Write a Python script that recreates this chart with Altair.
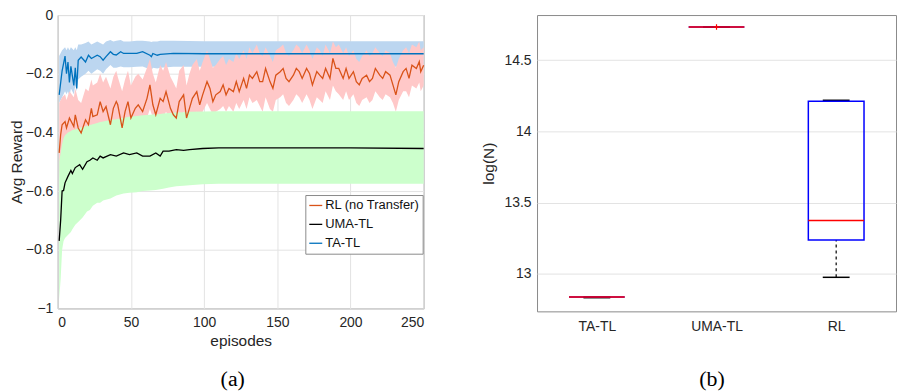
import altair as alt
import pandas as pd

# ---------------- Panel (a) data ----------------
rl_ep = [1, 2, 3, 5, 6, 8, 11, 12, 14, 16, 19, 21, 23, 24, 27, 29, 31, 33, 36, 38,
         40, 41, 44, 46, 48, 50, 53, 55, 58, 61, 63, 65, 67, 70, 72, 74, 77, 79, 81, 83,
         86, 88, 90, 92, 95, 97, 99, 102, 104, 106, 108, 111, 113, 115, 117, 120, 122, 124, 127, 129,
         131, 133, 136, 138, 140, 142, 145, 147, 149, 152, 154, 156, 158, 161, 163, 165, 167, 170, 172, 174,
         177, 179, 181, 183, 186, 188, 190, 192, 195, 197, 199, 202, 204, 206, 208, 211, 213, 215, 217, 220,
         222, 224, 227, 229, 231, 233, 236, 238, 240, 242, 245, 247, 248, 250]
rl_mean = [-0.470, -0.408, -0.374, -0.363, -0.385, -0.351, -0.380, -0.340, -0.385, -0.402,
           -0.357, -0.374, -0.318, -0.346, -0.340, -0.295, -0.329, -0.312, -0.374, -0.318,
           -0.295, -0.306, -0.385, -0.329, -0.295, -0.351, -0.318, -0.306, -0.329, -0.284,
           -0.238, -0.306, -0.340, -0.284, -0.295, -0.261, -0.318, -0.340, -0.351, -0.295,
           -0.272, -0.351, -0.318, -0.284, -0.261, -0.306, -0.272, -0.227, -0.250, -0.295,
           -0.272, -0.261, -0.238, -0.272, -0.250, -0.261, -0.227, -0.261, -0.216, -0.250,
           -0.205, -0.216, -0.193, -0.227, -0.227, -0.182, -0.227, -0.250, -0.205, -0.193,
           -0.182, -0.216, -0.227, -0.205, -0.182, -0.193, -0.216, -0.182, -0.199, -0.238,
           -0.193, -0.205, -0.216, -0.182, -0.216, -0.148, -0.182, -0.182, -0.216, -0.182,
           -0.216, -0.193, -0.227, -0.238, -0.216, -0.205, -0.227, -0.216, -0.182, -0.205,
           -0.216, -0.193, -0.205, -0.238, -0.272, -0.227, -0.193, -0.182, -0.216, -0.171,
           -0.182, -0.159, -0.193, -0.171]
rl_upper = [-0.300, -0.290, -0.280, -0.270, -0.290, -0.260, -0.280, -0.250, -0.290, -0.300,
            -0.250, -0.260, -0.220, -0.240, -0.230, -0.200, -0.230, -0.210, -0.250, -0.210,
            -0.190, -0.210, -0.260, -0.220, -0.190, -0.240, -0.210, -0.200, -0.220, -0.180,
            -0.150, -0.200, -0.230, -0.170, -0.190, -0.160, -0.210, -0.230, -0.250, -0.190,
            -0.170, -0.240, -0.200, -0.170, -0.150, -0.190, -0.160, -0.120, -0.150, -0.180,
            -0.170, -0.150, -0.140, -0.170, -0.150, -0.160, -0.130, -0.150, -0.120, -0.150,
            -0.110, -0.130, -0.100, -0.130, -0.140, -0.110, -0.140, -0.160, -0.120, -0.110,
            -0.100, -0.130, -0.140, -0.120, -0.100, -0.110, -0.130, -0.100, -0.120, -0.150,
            -0.110, -0.120, -0.140, -0.100, -0.130, -0.090, -0.110, -0.100, -0.130, -0.110,
            -0.140, -0.120, -0.150, -0.160, -0.140, -0.120, -0.140, -0.130, -0.110, -0.130,
            -0.140, -0.120, -0.130, -0.160, -0.180, -0.150, -0.120, -0.110, -0.130, -0.100,
            -0.110, -0.090, -0.120, -0.110]
rl_lower = [-0.560, -0.500, -0.450, -0.430, -0.440, -0.420, -0.430, -0.410, -0.440, -0.440,
            -0.420, -0.420, -0.390, -0.400, -0.400, -0.370, -0.390, -0.380, -0.410, -0.380,
            -0.360, -0.370, -0.400, -0.380, -0.360, -0.390, -0.370, -0.360, -0.370, -0.350,
            -0.320, -0.350, -0.370, -0.340, -0.350, -0.330, -0.360, -0.370, -0.380, -0.350,
            -0.330, -0.380, -0.360, -0.340, -0.330, -0.350, -0.330, -0.300, -0.320, -0.340,
            -0.330, -0.320, -0.310, -0.330, -0.310, -0.330, -0.300, -0.320, -0.290, -0.320,
            -0.280, -0.300, -0.290, -0.310, -0.330, -0.280, -0.320, -0.330, -0.290, -0.280,
            -0.270, -0.300, -0.310, -0.290, -0.270, -0.280, -0.300, -0.270, -0.290, -0.320,
            -0.280, -0.290, -0.300, -0.260, -0.290, -0.240, -0.260, -0.270, -0.290, -0.260,
            -0.290, -0.270, -0.300, -0.310, -0.290, -0.280, -0.300, -0.290, -0.260, -0.280,
            -0.290, -0.270, -0.280, -0.300, -0.330, -0.290, -0.260, -0.260, -0.280, -0.240,
            -0.250, -0.230, -0.260, -0.240]

ta_ep = [1, 3, 5, 6, 7, 8, 9, 11, 12, 13, 14, 16, 19, 21, 23, 27, 29, 31, 33, 36,
         38, 40, 43, 45, 49, 54, 58, 63, 64, 65, 68, 70, 79, 100, 150, 200, 250]
ta_mean = [-0.272, -0.190, -0.140, -0.200, -0.160, -0.230, -0.175, -0.240, -0.180, -0.250,
           -0.154, -0.143, -0.160, -0.137, -0.148, -0.137, -0.142, -0.154, -0.142, -0.125,
           -0.134, -0.136, -0.125, -0.131, -0.131, -0.131, -0.125, -0.137, -0.142, -0.131,
           -0.137, -0.134, -0.131, -0.132, -0.132, -0.132, -0.132]
ta_upper = [-0.140, -0.120, -0.110, -0.120, -0.110, -0.120, -0.110, -0.120, -0.110, -0.120,
            -0.100, -0.100, -0.095, -0.090, -0.100, -0.090, -0.095, -0.100, -0.090, -0.085,
            -0.090, -0.088, -0.085, -0.090, -0.090, -0.088, -0.088, -0.090, -0.092, -0.090,
            -0.090, -0.088, -0.088, -0.089, -0.089, -0.089, -0.089]
ta_lower = [-0.300, -0.280, -0.260, -0.270, -0.260, -0.280, -0.250, -0.270, -0.240, -0.260,
            -0.220, -0.210, -0.200, -0.190, -0.200, -0.185, -0.190, -0.200, -0.185, -0.170,
            -0.180, -0.180, -0.175, -0.178, -0.178, -0.176, -0.175, -0.185, -0.190, -0.180,
            -0.182, -0.180, -0.176, -0.176, -0.176, -0.176, -0.176]

uma_ep = [1, 2, 3, 4, 5, 7, 9, 10, 12, 15, 17, 20, 22, 24, 27, 29, 31, 36, 40, 45,
          49, 54, 58, 63, 67, 70, 72, 76, 81, 86, 90, 99, 110, 125, 150, 200, 250]
uma_mean = [-0.770, -0.700, -0.600, -0.598, -0.572, -0.550, -0.530, -0.540, -0.520, -0.510,
            -0.526, -0.500, -0.495, -0.487, -0.495, -0.481, -0.487, -0.476, -0.481, -0.470,
            -0.476, -0.470, -0.481, -0.481, -0.470, -0.481, -0.464, -0.464, -0.459, -0.461,
            -0.459, -0.455, -0.453, -0.453, -0.453, -0.453, -0.455]
uma_upper = [-0.500, -0.470, -0.440, -0.420, -0.410, -0.400, -0.395, -0.392, -0.390, -0.385,
             -0.382, -0.378, -0.375, -0.372, -0.368, -0.365, -0.363, -0.358, -0.355, -0.350,
             -0.347, -0.344, -0.342, -0.340, -0.338, -0.337, -0.336, -0.334, -0.332, -0.331,
             -0.330, -0.329, -0.328, -0.328, -0.328, -0.328, -0.328]
uma_lower = [-0.970, -0.900, -0.800, -0.770, -0.760, -0.750, -0.740, -0.730, -0.715, -0.700,
             -0.690, -0.670, -0.665, -0.650, -0.640, -0.640, -0.632, -0.625, -0.615, -0.608,
             -0.606, -0.604, -0.600, -0.598, -0.596, -0.594, -0.592, -0.588, -0.584, -0.582,
             -0.580, -0.577, -0.575, -0.575, -0.575, -0.575, -0.575]

series_names = ["RL (no Transfer)", "UMA-TL", "TA-TL"]
series_colors = ["#D95319", "#000000", "#0072BD"]
band_colors = ["#FFC8C8", "#CCFFCC", "#BCD6F0"]

# ---------------- Panel (b) data ----------------
box_cat = ["TA-TL", "UMA-TL", "RL"]
box_q1 = [12.837, 14.732, 13.237]
box_med = [12.837, 14.732, 13.375]
box_q3 = [12.837, 14.732, 14.211]
box_lo = [12.833, 14.732, 12.976]
box_hi = [12.837, 14.732, 14.218]
out_cat = ["UMA-TL"]
out_val = [14.732]

FONT = "Liberation Sans"
SERIF = "Liberation Serif"

# ---------------- Panel (a) ----------------
xsc = alt.Scale(domain=[0, 250], nice=False)
ysc = alt.Scale(domain=[-1, 0], nice=False)
xax = alt.Axis(values=[0, 50, 100, 150, 200, 250], title="episodes", labelPadding=7,
               titlePadding=4, format="d")
yax = alt.Axis(values=[0, -0.2, -0.4, -0.6, -0.8, -1], title="Avg Reward", format="~g",
               labelPadding=5, titlePadding=1)


def band(ep, lo, hi, color):
    df = pd.DataFrame({"ep": ep, "lo": lo, "hi": hi})
    return alt.Chart(df).mark_area(color=color, opacity=1).encode(
        x=alt.X("ep:Q", scale=xsc, axis=xax),
        y=alt.Y("hi:Q", scale=ysc, axis=yax),
        y2="lo:Q",
    )


lines_df = pd.concat([
    pd.DataFrame({"ep": rl_ep, "hi": rl_mean, "series": series_names[0]}),
    pd.DataFrame({"ep": uma_ep, "hi": uma_mean, "series": series_names[1]}),
    pd.DataFrame({"ep": ta_ep, "hi": ta_mean, "series": series_names[2]}),
])

lines = alt.Chart(lines_df).mark_line(strokeWidth=1.3).encode(
    x=alt.X("ep:Q", scale=xsc, axis=xax),
    y=alt.Y("hi:Q", scale=ysc, axis=yax),
    color=alt.Color("series:N", scale=alt.Scale(domain=series_names, range=series_colors),
                    legend=alt.Legend(title=None, orient="none", legendX=249, legendY=181,
                                      fillColor="white", strokeColor="#8a8a8a", padding=3,
                                      symbolType="stroke", symbolStrokeWidth=1.3, symbolSize=170,
                                      labelFont=FONT, labelFontSize=13, labelColor="#111111",
                                      labelOffset=2, rowPadding=4)),
)

cap_a = alt.Chart(pd.DataFrame({"t": ["(a)"]})).mark_text(
    font=SERIF, fontSize=22, baseline="middle", align="center", color="black"
).encode(text="t:N", x=alt.value(176), y=alt.value(366))

left = alt.layer(
    band(ta_ep, ta_lower, ta_upper, band_colors[2]),
    band(rl_ep, rl_lower, rl_upper, band_colors[0]),
    band(uma_ep, uma_lower, uma_upper, band_colors[1]),
    lines,
    cap_a,
).properties(width=368, height=295)

# ---------------- Panel (b) ----------------
bdf = pd.DataFrame({"cat": box_cat, "q1": box_q1, "med": box_med, "q3": box_q3,
                    "lo": box_lo, "hi": box_hi})
odf = pd.DataFrame({"cat": out_cat, "v": out_val})

xsc2 = alt.Scale(type="point", domain=box_cat, padding=0.5)
ysc2 = alt.Scale(domain=[12.737, 14.816], nice=False, zero=False)
xax2 = alt.Axis(title=None, labelPadding=8, labelAngle=0)
yax2 = alt.Axis(values=[13, 13.5, 14, 14.5], title="log(N)", format="~g",
                labelPadding=6, titlePadding=8)

bx = alt.X("cat:N", scale=xsc2, axis=xax2)

whisk_hi = alt.Chart(bdf).mark_rule(color="black", strokeDash=[3, 3], strokeWidth=1.2).encode(
    x=bx, y=alt.Y("q3:Q", scale=ysc2, axis=yax2), y2="hi:Q")
whisk_lo = alt.Chart(bdf).mark_rule(color="black", strokeDash=[3, 3], strokeWidth=1.2).encode(
    x=bx, y=alt.Y("lo:Q", scale=ysc2, axis=yax2), y2="q1:Q")
cap_lo = alt.Chart(bdf).mark_tick(color="black", size=27, thickness=1.5, opacity=1).encode(
    x=bx, y=alt.Y("lo:Q", scale=ysc2, axis=yax2))
cap_hi = alt.Chart(bdf).mark_tick(color="black", size=27, thickness=1.5, opacity=1).encode(
    x=bx, y=alt.Y("hi:Q", scale=ysc2, axis=yax2))
box = alt.Chart(bdf).mark_bar(size=56, fillOpacity=0, stroke="#0000FF", strokeWidth=1.5).encode(
    x=bx, y=alt.Y("q1:Q", scale=ysc2, axis=yax2), y2="q3:Q")
med = alt.Chart(bdf).mark_tick(color="#FF0000", size=56, thickness=1.5, opacity=1).encode(
    x=bx, y=alt.Y("med:Q", scale=ysc2, axis=yax2))
outl = alt.Chart(odf).mark_point(shape="M-1,0L1,0M0,-1L0,1", color="#FF0000", filled=False,
                                 size=30, strokeWidth=1.2, opacity=1).encode(
    x=bx, y=alt.Y("v:Q", scale=ysc2, axis=yax2))

cap_b = alt.Chart(pd.DataFrame({"t": ["(b)"]})).mark_text(
    font=SERIF, fontSize=22, baseline="middle", align="center", color="black"
).encode(text="t:N", x=alt.value(176), y=alt.value(366))

right = alt.layer(whisk_hi, whisk_lo, cap_lo, cap_hi, box, med, outl, cap_b).properties(
    width=361, height=298)

chart = alt.hconcat(left, right, spacing=114, bounds="flush").properties(
    padding={"left": 0, "top": -2, "right": 0, "bottom": 0}
).configure_axis(
    labelFont=FONT, titleFont=FONT, labelFontSize=14, titleFontSize=15.5,
    labelColor="#262626", titleColor="#262626", titleFontWeight="normal",
    gridColor="#E3E3E3", gridWidth=1, domain=False, ticks=False,
).configure_view(stroke="#8a8a8a", strokeWidth=1)

chart.save("out.html", embed_options={"renderer": "svg", "actions": False})
